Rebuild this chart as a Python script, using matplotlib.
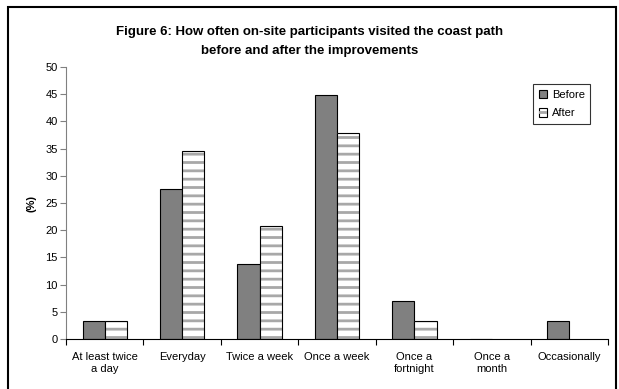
import numpy as np
import matplotlib.pyplot as plt
from matplotlib.patches import Rectangle
from matplotlib.ticker import FixedLocator, NullFormatter

plt.rcParams['font.family'] = ['Liberation Sans', 'DejaVu Sans']
plt.rcParams['hatch.linewidth'] = 2.0

categories = ['At least twice\na day', 'Everyday', 'Twice a week', 'Once a week',
              'Once a\nfortnight', 'Once a\nmonth', 'Occasionally']
before = [3.4, 27.6, 13.8, 44.8, 6.9, 0, 3.4]
after = [3.4, 34.5, 20.7, 37.9, 3.4, 0, 0]
yticks = [0, 5, 10, 15, 20, 25, 30, 35, 40, 45, 50]

fig = plt.figure(figsize=(6.19, 3.89), dpi=100)
ax = fig.add_axes([0.1066, 0.1285, 0.8756, 0.6992])

x = np.arange(len(categories))
w = 0.286
ax.bar(x - w / 2, before, w, color='#808080', edgecolor='black', linewidth=0.8, label='Before')
# gray stripes first, then the black outline on top
ax.bar(x + w / 2, after, w, color='white', edgecolor='#a8a8a8', linewidth=0, hatch='--')
ax.bar(x + w / 2, [v if v > 0 else np.nan for v in after], w, fill=False,
       edgecolor='black', linewidth=0.8)
after_handle = Rectangle((0, 0), 1, 1, facecolor='white', edgecolor='black', linewidth=0.8)
stripe_handle = Rectangle((0, 0), 1, 1, facecolor='none', edgecolor='#a8a8a8', linewidth=0, hatch='--')

ax.set_xlim(-0.5, 6.5)
ax.set_ylim(0, 50)
ax.set_yticks(yticks)
ax.tick_params(axis='y', labelsize=8, length=4, width=0.8, color='#808080', pad=2)

# category labels sit between the boundary ticks
ax.set_xticks(x)
ax.set_xticklabels(categories, fontsize=8, linespacing=1.35)
ax.tick_params(axis='x', which='major', length=0, pad=9)
ax.xaxis.set_minor_locator(FixedLocator(np.arange(-0.5, 7, 1)))
ax.xaxis.set_minor_formatter(NullFormatter())
ax.tick_params(axis='x', which='minor', length=4, width=0.8, color='black')

ax.spines['top'].set_visible(False)
ax.spines['right'].set_visible(False)
ax.spines['left'].set_color('#808080')
ax.spines['bottom'].set_color('black')

ax.set_ylabel('(%)', fontsize=8, fontweight='bold', labelpad=6)

fig.suptitle('Figure 6: How often on-site participants visited the coast path\nbefore and after the improvements',
             x=0.5, y=0.932, fontsize=9.5, fontweight='bold', linespacing=1.75)

handles, labels = ax.get_legend_handles_labels()
leg = ax.legend(handles + [(after_handle, stripe_handle)], labels + ['After'],
                loc='upper left', bbox_to_anchor=(533 / 619, 1 - 84 / 389),
                bbox_transform=fig.transFigure, fontsize=8, frameon=True, fancybox=False,
                edgecolor='black', handlelength=0.8, handleheight=0.8, handletextpad=0.4,
                borderpad=0.5, labelspacing=0.75, borderaxespad=0)
leg.get_frame().set_linewidth(0.8)

fig.patches.append(Rectangle((8 / 619, -10 / 389), 608 / 619, 392 / 389, transform=fig.transFigure,
                             fill=False, edgecolor='black', linewidth=1.5))

fig.savefig('out.png', dpi=100)
